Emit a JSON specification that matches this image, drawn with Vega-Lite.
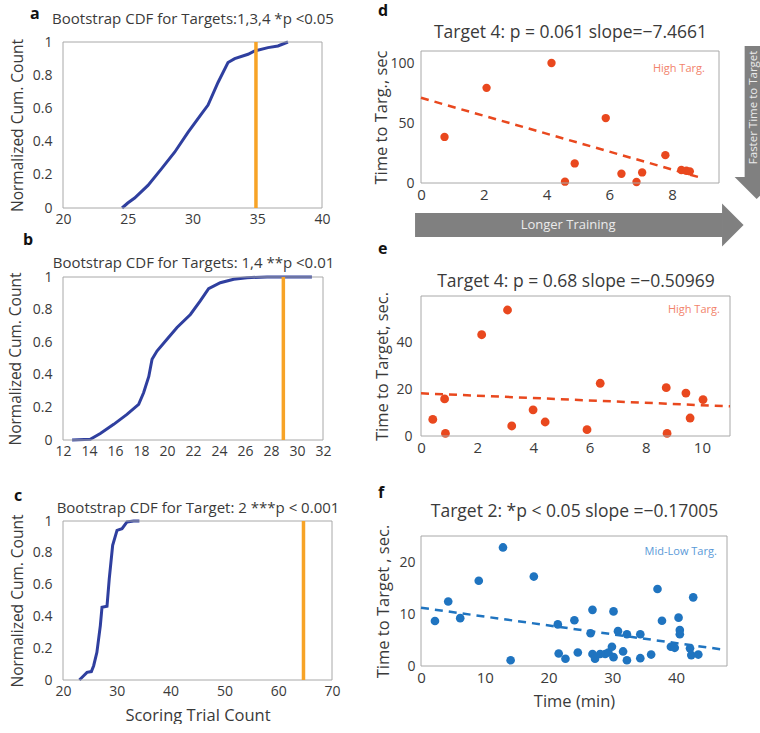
{
  "$schema": "https://vega.github.io/schema/vega-lite/v6.json",
  "background": "white",
  "padding": {"left": 8, "top": 2, "right": 0, "bottom": 0},
  "config": {
    "font": "Open Sans",
    "view": {"stroke": null},
    "axis": {"grid": false, "ticks": false, "domain": false, "labelColor": "#3a3a3a", "titleColor": "#3a3a3a", "labelFontSize": 14, "titleFontSize": 16.5, "titleFontWeight": "normal", "labelFlush": false, "labelOverlap": false, "labelFont": "Open Sans", "titleFont": "Open Sans"},
    "title": {"font": "Open Sans", "fontSize": 16, "fontWeight": "bold", "color": "#111111", "anchor": "start", "frame": "group"}
  },
  "spacing": 32,
  "hconcat": [
    {
      "vconcat": [
        {
          "width": 259, "height": 166,
          "title": {"text": "a", "dx": -33, "offset": -11},
          "resolve": {"axis": {"x": "independent", "y": "independent"}},
          "layer": [
            {
              "data": {"values": [
                {"x": 24.56, "y": 0}, {"x": 25.0, "y": 0.03}, {"x": 25.53, "y": 0.06}, {"x": 26.56, "y": 0.136}, {"x": 27.6, "y": 0.236}, {"x": 28.62, "y": 0.336}, {"x": 29.65, "y": 0.456}, {"x": 30.68, "y": 0.566}, {"x": 31.2, "y": 0.62}, {"x": 31.97, "y": 0.756}, {"x": 32.74, "y": 0.876}, {"x": 33.26, "y": 0.9}, {"x": 34.29, "y": 0.926}, {"x": 34.8, "y": 0.946}, {"x": 35.83, "y": 0.966}, {"x": 36.6, "y": 0.976}, {"x": 37.37, "y": 1.0}
              ]},
              "mark": {"type": "line", "color": "#2f3f9f", "strokeWidth": 3},
              "encoding": {
                "x": {"field": "x", "type": "quantitative", "scale": {"domain": [20, 40], "nice": false, "zero": false}, "axis": {"orient": "bottom", "values": [20, 25, 30, 35, 40], "title": null, "labelPadding": 4}},
                "y": {"field": "y", "type": "quantitative", "scale": {"domain": [0, 1], "nice": false}, "axis": {"orient": "left", "values": [0, 0.2, 0.4, 0.6, 0.8, 1], "format": "~g", "title": "Normalized Cum. Count", "titleFontSize": 15.5, "titlePadding": 7, "labelPadding": 11}}
              }
            },
            {
              "data": {"values": [{}]},
              "mark": {"type": "rect", "filled": false, "color": "#a8a8a8", "strokeWidth": 1},
              "encoding": {
                "x": {"datum": 20, "type": "quantitative", "scale": {"domain": [20, 40], "nice": false, "zero": false}, "axis": null},
                "x2": {"datum": 40},
                "y": {"datum": 0, "type": "quantitative", "scale": {"domain": [0, 1], "nice": false}, "axis": null},
                "y2": {"datum": 1}
              }
            },
            {
              "data": {"values": [{"x": 34.9}]},
              "mark": {"type": "rule", "color": "#f7a326", "strokeWidth": 3.5},
              "encoding": {
                "x": {"field": "x", "type": "quantitative", "scale": {"domain": [20, 40], "nice": false, "zero": false}, "axis": {"orient": "top", "labels": false, "title": "Bootstrap CDF for Targets:1,3,4 *p <0.05", "titleFontSize": 15, "titlePadding": 16}}
              }
            }
          ]
        },
        {
          "width": 260, "height": 163,
          "title": {"text": "b", "dx": -40, "offset": 7.5},
          "resolve": {"axis": {"x": "independent", "y": "independent"}},
          "layer": [
            {
              "data": {"values": [
                {"x": 12.7, "y": 0}, {"x": 14.1, "y": 0.004}, {"x": 14.87, "y": 0.04}, {"x": 15.9, "y": 0.096}, {"x": 16.92, "y": 0.157}, {"x": 17.82, "y": 0.219}, {"x": 18.2, "y": 0.29}, {"x": 18.6, "y": 0.39}, {"x": 18.85, "y": 0.495}, {"x": 19.23, "y": 0.546}, {"x": 20.0, "y": 0.618}, {"x": 20.77, "y": 0.69}, {"x": 21.8, "y": 0.77}, {"x": 22.56, "y": 0.853}, {"x": 23.2, "y": 0.928}, {"x": 24.1, "y": 0.965}, {"x": 25.13, "y": 0.986}, {"x": 26.15, "y": 0.996}, {"x": 27.7, "y": 1.0}, {"x": 31.15, "y": 1.0}
              ]},
              "mark": {"type": "line", "color": "#2f3f9f", "strokeWidth": 3},
              "encoding": {
                "x": {"field": "x", "type": "quantitative", "scale": {"domain": [12, 32], "nice": false, "zero": false}, "axis": {"orient": "bottom", "values": [12, 14, 16, 18, 20, 22, 24, 26, 28, 30, 32], "title": null, "labelPadding": 4}},
                "y": {"field": "y", "type": "quantitative", "scale": {"domain": [0, 1], "nice": false}, "axis": {"orient": "left", "values": [0, 0.2, 0.4, 0.6, 0.8, 1], "format": "~g", "title": "Normalized Cum. Count", "titleFontSize": 15.5, "titlePadding": 9, "labelPadding": 11}}
              }
            },
            {
              "data": {"values": [{}]},
              "mark": {"type": "rect", "filled": false, "color": "#a8a8a8", "strokeWidth": 1},
              "encoding": {
                "x": {"datum": 12, "type": "quantitative", "scale": {"domain": [12, 32], "nice": false, "zero": false}, "axis": null},
                "x2": {"datum": 32},
                "y": {"datum": 0, "type": "quantitative", "scale": {"domain": [0, 1], "nice": false}, "axis": null},
                "y2": {"datum": 1}
              }
            },
            {
              "data": {"values": [{"x": 28.95}]},
              "mark": {"type": "rule", "color": "#f7a326", "strokeWidth": 3.5},
              "encoding": {
                "x": {"field": "x", "type": "quantitative", "scale": {"domain": [12, 32], "nice": false, "zero": false}, "axis": {"orient": "top", "labels": false, "title": "Bootstrap CDF for Targets: 1,4 **p <0.01", "titleFontSize": 15, "titlePadding": 6.5}}
              }
            }
          ]
        },
        {
          "width": 269, "height": 171,
          "title": {"text": "c", "dx": -49, "offset": -3.5},
          "resolve": {"axis": {"x": "independent", "y": "independent"}},
          "layer": [
            {
              "data": {"values": [
                {"x": 23.04, "y": 0}, {"x": 23.84, "y": 0.027}, {"x": 24.46, "y": 0.048}, {"x": 25.27, "y": 0.053}, {"x": 25.7, "y": 0.09}, {"x": 26.3, "y": 0.174}, {"x": 26.94, "y": 0.342}, {"x": 27.25, "y": 0.458}, {"x": 28.18, "y": 0.464}, {"x": 28.6, "y": 0.637}, {"x": 29.23, "y": 0.847}, {"x": 30.04, "y": 0.941}, {"x": 30.97, "y": 0.952}, {"x": 31.9, "y": 0.994}, {"x": 33.13, "y": 1.0}, {"x": 34.2, "y": 1.0}
              ]},
              "mark": {"type": "line", "color": "#2f3f9f", "strokeWidth": 3},
              "encoding": {
                "x": {"field": "x", "type": "quantitative", "scale": {"domain": [20, 70], "nice": false, "zero": false}, "axis": {"orient": "bottom", "values": [20, 30, 40, 50, 60, 70], "title": "Scoring Trial Count", "titlePadding": 9, "labelPadding": 4}},
                "y": {"field": "y", "type": "quantitative", "scale": {"domain": [0, 1], "nice": false, "range": [171, 12]}, "axis": {"orient": "left", "values": [0, 0.2, 0.4, 0.6, 0.8, 1], "format": "~g", "title": "Normalized Cum. Count", "titleFontSize": 15.5, "titlePadding": 7, "labelPadding": 11}}
              }
            },
            {
              "data": {"values": [{}]},
              "mark": {"type": "rect", "filled": false, "color": "#a8a8a8", "strokeWidth": 1},
              "encoding": {
                "x": {"datum": 20, "type": "quantitative", "scale": {"domain": [20, 70], "nice": false, "zero": false}, "axis": null},
                "x2": {"datum": 70},
                "y": {"datum": 0, "type": "quantitative", "scale": {"domain": [0, 1], "nice": false, "range": [171, 12]}, "axis": null},
                "y2": {"datum": 1}
              }
            },
            {
              "data": {"values": [{"x": 64.7}]},
              "mark": {"type": "rule", "color": "#f7a326", "strokeWidth": 3.5},
              "encoding": {
                "x": {"field": "x", "type": "quantitative", "scale": {"domain": [20, 70], "nice": false, "zero": false}, "axis": {"orient": "top", "labels": false, "title": "Bootstrap CDF for Target: 2 ***p < 0.001", "titleFontSize": 15, "titlePadding": -6}},
                "y": {"datum": 0, "type": "quantitative", "scale": {"domain": [0, 1], "nice": false, "range": [171, 12]}, "axis": null},
                "y2": {"datum": 1}
              }
            }
          ]
        }
      ],
      "spacing": 69,
      "bounds": "flush"
    },
    {
      "vconcat": [
        {
          "width": 298, "height": 141,
          "title": {"text": "d", "dx": -43, "offset": 5},
          "resolve": {"axis": {"x": "independent", "y": "independent"}},
          "layer": [
            {
              "data": {"values": [
                {"x": 0.75, "y": 38.4}, {"x": 2.09, "y": 79.3}, {"x": 4.16, "y": 100}, {"x": 4.59, "y": 1.1}, {"x": 4.9, "y": 16.3}, {"x": 5.89, "y": 54.1}, {"x": 6.39, "y": 7.7}, {"x": 6.87, "y": 0.8}, {"x": 7.05, "y": 8.8}, {"x": 7.79, "y": 23.2}, {"x": 8.3, "y": 10.8}, {"x": 8.46, "y": 10.2}, {"x": 8.57, "y": 9.7}
              ]},
              "mark": {"type": "circle", "color": "#e9481e", "size": 70, "opacity": 1},
              "encoding": {
                "x": {"field": "x", "type": "quantitative", "scale": {"domain": [0, 9.5], "nice": false, "zero": false}, "axis": {"orient": "bottom", "values": [0, 2, 4, 6, 8], "title": null, "labelPadding": 4, "labelFontSize": 15}},
                "y": {"field": "y", "type": "quantitative", "scale": {"domain": [0, 110], "nice": false, "range": [141, 9]}, "axis": {"orient": "left", "values": [0, 50, 100], "title": "Time to Targ., sec", "titlePadding": 0, "labelPadding": 7}}
              }
            },
            {
              "data": {"values": [{}]},
              "mark": {"type": "rect", "filled": false, "color": "#a8a8a8", "strokeWidth": 1},
              "encoding": {
                "x": {"datum": 0, "type": "quantitative", "scale": {"domain": [0, 9.5], "nice": false, "zero": false}, "axis": null},
                "x2": {"datum": 9.5},
                "y": {"datum": 0, "type": "quantitative", "scale": {"domain": [0, 110], "nice": false, "range": [141, 9]}, "axis": null},
                "y2": {"datum": 110}
              }
            },
            {
              "data": {"values": [{"x": 0, "y": 71}, {"x": 9, "y": 3.8}]},
              "mark": {"type": "line", "color": "#e9481e", "strokeWidth": 2.5, "strokeDash": [8, 6]},
              "encoding": {
                "x": {"field": "x", "type": "quantitative", "scale": {"domain": [0, 9.5], "nice": false, "zero": false}, "axis": {"orient": "top", "labels": false, "title": "Target 4: p = 0.061 slope=\u22127.4661", "titleFontSize": 17.5, "titlePadding": 0.5}},
                "y": {"field": "y", "type": "quantitative", "scale": {"domain": [0, 110], "nice": false, "range": [141, 9]}, "axis": null}
              }
            },
            {
              "data": {"values": [{}]},
              "mark": {"type": "rule", "color": "#808080", "strokeWidth": 24, "strokeCap": "butt", "clip": false},
              "encoding": {
                "x": {"datum": -0.19, "type": "quantitative", "scale": {"domain": [0, 9.5], "nice": false, "zero": false}, "axis": null},
                "x2": {"datum": 9.62},
                "y": {"datum": -35, "type": "quantitative", "scale": {"domain": [0, 110], "nice": false, "range": [141, 9]}, "axis": null}
              }
            },
            {
              "data": {"values": [{}]},
              "mark": {"type": "point", "filled": true, "color": "#808080", "opacity": 1, "strokeWidth": 0, "shape": "M-0.5,-1L0.5,0L-0.5,1Z", "size": 1849, "clip": false},
              "encoding": {
                "x": {"datum": 9.94, "type": "quantitative", "scale": {"domain": [0, 9.5], "nice": false, "zero": false}, "axis": null},
                "y": {"datum": -35, "type": "quantitative", "scale": {"domain": [0, 110], "nice": false, "range": [141, 9]}, "axis": null}
              }
            },
            {
              "data": {"values": [{}]},
              "mark": {"type": "rule", "color": "#808080", "strokeWidth": 24, "strokeCap": "butt", "clip": false},
              "encoding": {
                "x": {"datum": 10.7, "type": "quantitative", "scale": {"domain": [0, 9.5], "nice": false, "zero": false}, "axis": null},
                "y": {"datum": 114.2, "type": "quantitative", "scale": {"domain": [0, 110], "nice": false, "range": [141, 9]}, "axis": null},
                "y2": {"datum": 5}
              }
            },
            {
              "data": {"values": [{}]},
              "mark": {"type": "point", "filled": true, "color": "#808080", "opacity": 1, "strokeWidth": 0, "shape": "M-1,-0.5L1,-0.5L0,0.5Z", "size": 1936, "clip": false},
              "encoding": {
                "x": {"datum": 10.7, "type": "quantitative", "scale": {"domain": [0, 9.5], "nice": false, "zero": false}, "axis": null},
                "y": {"datum": -4.2, "type": "quantitative", "scale": {"domain": [0, 110], "nice": false, "range": [141, 9]}, "axis": null}
              }
            },
            {
              "data": {"values": [{}]},
              "mark": {"type": "text", "color": "#ebebeb", "fontSize": 13, "align": "center", "baseline": "middle", "clip": false},
              "encoding": {
                "x": {"datum": 4.69, "type": "quantitative", "scale": {"domain": [0, 9.5], "nice": false, "zero": false}, "axis": null},
                "y": {"datum": -35, "type": "quantitative", "scale": {"domain": [0, 110], "nice": false, "range": [141, 9]}, "axis": null},
                "text": {"value": "Longer Training"}
              }
            },
            {
              "data": {"values": [{}]},
              "mark": {"type": "text", "color": "#ebebeb", "fontSize": 11.5, "align": "center", "baseline": "middle", "angle": 270, "clip": false},
              "encoding": {
                "x": {"datum": 10.6, "type": "quantitative", "scale": {"domain": [0, 9.5], "nice": false, "zero": false}, "axis": null},
                "y": {"datum": 63, "type": "quantitative", "scale": {"domain": [0, 110], "nice": false, "range": [141, 9]}, "axis": null},
                "text": {"value": "Faster Time to Target"}
              }
            },
            {
              "data": {"values": [{}]},
              "mark": {"type": "text", "color": "#f2836b", "fontSize": 11, "align": "right", "baseline": "middle"},
              "encoding": {
                "x": {"datum": 9.05, "type": "quantitative", "scale": {"domain": [0, 9.5], "nice": false, "zero": false}, "axis": null},
                "y": {"datum": 95, "type": "quantitative", "scale": {"domain": [0, 110], "nice": false, "range": [141, 9]}, "axis": null},
                "text": {"value": "High Targ."}
              }
            }
          ]
        },
        {
          "width": 309, "height": 153,
          "title": {"text": "e", "dx": -43, "offset": 15.5},
          "resolve": {"axis": {"x": "independent", "y": "independent"}},
          "layer": [
            {
              "data": {"values": [
                {"x": 0.42, "y": 7.1}, {"x": 0.84, "y": 15.9}, {"x": 0.87, "y": 1.1}, {"x": 2.16, "y": 43.4}, {"x": 3.08, "y": 54.0}, {"x": 3.23, "y": 4.3}, {"x": 3.99, "y": 11.2}, {"x": 4.42, "y": 6.0}, {"x": 5.91, "y": 2.7}, {"x": 6.38, "y": 22.6}, {"x": 8.73, "y": 20.7}, {"x": 8.76, "y": 1.1}, {"x": 9.43, "y": 18.4}, {"x": 9.58, "y": 7.7}, {"x": 10.04, "y": 15.6}
              ]},
              "mark": {"type": "circle", "color": "#e9481e", "size": 78, "opacity": 1},
              "encoding": {
                "x": {"field": "x", "type": "quantitative", "scale": {"domain": [0, 11], "nice": false, "zero": false}, "axis": {"orient": "bottom", "values": [0, 2, 4, 6, 8, 10], "title": null, "labelPadding": 4, "labelFontSize": 15}},
                "y": {"field": "y", "type": "quantitative", "scale": {"domain": [0, 60], "nice": false, "range": [153, 13]}, "axis": {"orient": "left", "values": [0, 20, 40], "title": "Time to Target, sec.", "titlePadding": 5, "labelPadding": 9}}
              }
            },
            {
              "data": {"values": [{}]},
              "mark": {"type": "rect", "filled": false, "color": "#a8a8a8", "strokeWidth": 1},
              "encoding": {
                "x": {"datum": 0, "type": "quantitative", "scale": {"domain": [0, 11], "nice": false, "zero": false}, "axis": null},
                "x2": {"datum": 11},
                "y": {"datum": 0, "type": "quantitative", "scale": {"domain": [0, 60], "nice": false, "range": [153, 13]}, "axis": null},
                "y2": {"datum": 60}
              }
            },
            {
              "data": {"values": [{"x": 0, "y": 18.3}, {"x": 11, "y": 12.7}]},
              "mark": {"type": "line", "color": "#e9481e", "strokeWidth": 2.5, "strokeDash": [8, 6]},
              "encoding": {
                "x": {"field": "x", "type": "quantitative", "scale": {"domain": [0, 11], "nice": false, "zero": false}, "axis": {"orient": "top", "labels": false, "title": "Target 4: p = 0.68 slope =\u22120.50969", "titleFontSize": 17.5, "titlePadding": -7.5}},
                "y": {"field": "y", "type": "quantitative", "scale": {"domain": [0, 60], "nice": false, "range": [153, 13]}, "axis": null}
              }
            },
            {
              "data": {"values": [{}]},
              "mark": {"type": "text", "color": "#f2836b", "fontSize": 11, "align": "right", "baseline": "middle"},
              "encoding": {
                "x": {"datum": 10.64, "type": "quantitative", "scale": {"domain": [0, 11], "nice": false, "zero": false}, "axis": null},
                "y": {"datum": 54, "type": "quantitative", "scale": {"domain": [0, 60], "nice": false, "range": [153, 13]}, "axis": null},
                "text": {"value": "High Targ."}
              }
            }
          ]
        },
        {
          "width": 306, "height": 130,
          "title": {"text": "f", "dx": -43, "offset": 1.5},
          "resolve": {"axis": {"x": "independent", "y": "independent"}},
          "layer": [
            {
              "data": {"values": [
                {"x": 2.19, "y": 8.65}, {"x": 4.27, "y": 12.4}, {"x": 6.15, "y": 9.2}, {"x": 9.06, "y": 16.4}, {"x": 12.86, "y": 22.8}, {"x": 14.06, "y": 1.1}, {"x": 17.7, "y": 17.2}, {"x": 21.46, "y": 8.0}, {"x": 21.6, "y": 2.4}, {"x": 22.66, "y": 1.4}, {"x": 24.06, "y": 8.8}, {"x": 24.6, "y": 2.6}, {"x": 26.9, "y": 10.8}, {"x": 26.6, "y": 6.3}, {"x": 26.9, "y": 2.3}, {"x": 27.3, "y": 1.4}, {"x": 28.1, "y": 2.3}, {"x": 28.9, "y": 2.3}, {"x": 29.4, "y": 2.6}, {"x": 29.95, "y": 3.7}, {"x": 30.2, "y": 10.5}, {"x": 30.2, "y": 1.7}, {"x": 30.9, "y": 6.7}, {"x": 31.7, "y": 2.8}, {"x": 32.3, "y": 6.1}, {"x": 32.3, "y": 1.1}, {"x": 34.4, "y": 6.1}, {"x": 34.4, "y": 1.5}, {"x": 36.1, "y": 2.2}, {"x": 37.1, "y": 14.8}, {"x": 37.8, "y": 8.7}, {"x": 39.2, "y": 3.7}, {"x": 39.8, "y": 3.5}, {"x": 40.4, "y": 9.3}, {"x": 40.6, "y": 6.9}, {"x": 40.6, "y": 6.1}, {"x": 42.2, "y": 3.4}, {"x": 42.4, "y": 2.1}, {"x": 42.7, "y": 13.2}, {"x": 43.5, "y": 2.2}
              ]},
              "mark": {"type": "circle", "color": "#1f74c0", "size": 75, "opacity": 1},
              "encoding": {
                "x": {"field": "x", "type": "quantitative", "scale": {"domain": [0, 48], "nice": false, "zero": false}, "axis": {"orient": "bottom", "values": [0, 10, 20, 30, 40], "title": "Time (min)", "titlePadding": 8, "labelPadding": 4, "labelFontSize": 15}},
                "y": {"field": "y", "type": "quantitative", "scale": {"domain": [0, 25], "nice": false}, "axis": {"orient": "left", "values": [0, 10, 20], "title": "Time to Target , sec.", "titlePadding": 7, "labelPadding": 6}}
              }
            },
            {
              "data": {"values": [{}]},
              "mark": {"type": "rect", "filled": false, "color": "#a8a8a8", "strokeWidth": 1},
              "encoding": {
                "x": {"datum": 0, "type": "quantitative", "scale": {"domain": [0, 48], "nice": false, "zero": false}, "axis": null},
                "x2": {"datum": 48},
                "y": {"datum": 0, "type": "quantitative", "scale": {"domain": [0, 25], "nice": false}, "axis": null},
                "y2": {"datum": 25}
              }
            },
            {
              "data": {"values": [{"x": 0, "y": 11.2}, {"x": 47.7, "y": 3.1}]},
              "mark": {"type": "line", "color": "#1f74c0", "strokeWidth": 2.5, "strokeDash": [8, 6]},
              "encoding": {
                "x": {"field": "x", "type": "quantitative", "scale": {"domain": [0, 48], "nice": false, "zero": false}, "axis": {"orient": "top", "labels": false, "title": "Target 2:  *p < 0.05 slope =\u22120.17005", "titleFontSize": 17.5, "titlePadding": 15.5}},
                "y": {"field": "y", "type": "quantitative", "scale": {"domain": [0, 25], "nice": false}, "axis": null}
              }
            },
            {
              "data": {"values": [{}]},
              "mark": {"type": "text", "color": "#5a9ad8", "fontSize": 11, "align": "right", "baseline": "middle"},
              "encoding": {
                "x": {"datum": 46.4, "type": "quantitative", "scale": {"domain": [0, 48], "nice": false, "zero": false}, "axis": null},
                "y": {"datum": 21.9, "type": "quantitative", "scale": {"domain": [0, 25], "nice": false}, "axis": null},
                "text": {"value": "Mid-Low Targ."}
              }
            }
          ]
        }
      ],
      "spacing": 100,
      "bounds": "flush"
    }
  ]
}
